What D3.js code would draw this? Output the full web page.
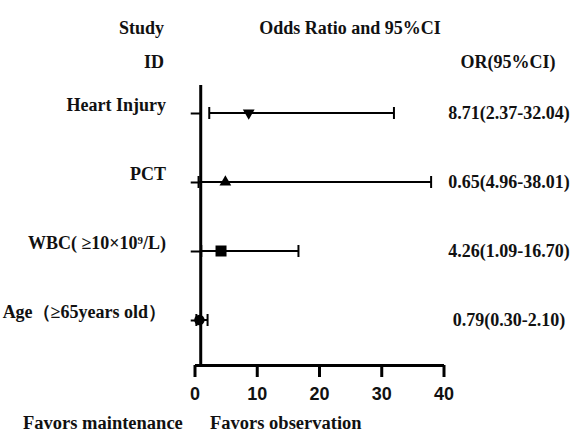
<!DOCTYPE html>
<html>
<head>
<meta charset="utf-8">
<script src="https://cdn.jsdelivr.net/npm/d3@7"></script>
<style>
  body { margin: 0; background: #fff; }
  svg text.serif { font-family: 'Liberation Serif', 'DejaVu Serif', serif; font-weight: bold; fill: #111; }
  .axis text { font-family: 'Liberation Sans', Arial, sans-serif; font-weight: bold; font-size: 18px; fill: #111; }
</style>
</head>
<body>
<svg width="577" height="434"></svg>
<script>
// forest plot data
var studies = ["Heart Injury", "PCT", "WBC( \u226510\u00d710\u2079/L)", "Age\uff08\u226565years old\uff09"];
var oddsRatio = [8.71, 4.96, 4.26, 0.79];
var lower = [2.37, 0.65, 1.09, 0.30];
var upper = [32.04, 38.01, 16.70, 2.10];
var orLabels = ["8.71(2.37-32.04)", "0.65(4.96-38.01)", "4.26(1.09-16.70)", "0.79(0.30-2.10)"];
var markers = ["triangleDown", "triangleUp", "square", "circle"];
var xTicks = [0, 10, 20, 30, 40];

var svg = d3.select("svg");
var serifFont = "'Liberation Serif', 'DejaVu Serif', serif";

var x = d3.scaleLinear().domain([0, 40]).range([194.5, 443.5]);
var y = d3.scalePoint().domain(studies).range([113, 320]);

function label(px, py, anchor, size, txt) {
  return svg.append("text")
    .attr("class", "serif")
    .attr("x", px).attr("y", py).attr("dy", "0.35em")
    .attr("text-anchor", anchor)
    .attr("font-family", serifFont)
    .attr("font-weight", "bold")
    .style("font-size", size + "px")
    .text(txt);
}

// headers
label(164, 28, "end", 18, "Study");
label(164, 62, "end", 18, "ID");
label(350, 28, "middle", 18, "Odds Ratio and 95%CI");
label(508, 62, "middle", 18, "OR(95%CI)");

// null line at OR = 1
svg.append("line")
  .attr("x1", x(1)).attr("x2", x(1))
  .attr("y1", 85).attr("y2", 365)
  .attr("stroke", "#000").attr("stroke-width", 3);

// left ticks for each row
var yAxis = svg.append("g")
  .attr("transform", "translate(" + x(1) + ",0)")
  .call(d3.axisLeft(y).tickSize(10).tickSizeOuter(0).tickFormat(""));
yAxis.select(".domain").remove();
yAxis.selectAll(".tick line").attr("stroke", "#000").attr("stroke-width", 2);

// x axis
var xAxis = svg.append("g")
  .attr("class", "axis")
  .attr("transform", "translate(0,365)")
  .call(d3.axisBottom(x).tickValues(xTicks).tickSize(12).tickSizeOuter(0).tickPadding(10));
xAxis.select(".domain").attr("stroke", "#000").attr("stroke-width", 3);
xAxis.selectAll(".tick line").attr("stroke", "#000").attr("stroke-width", 3);
xAxis.selectAll(".tick text").attr("font-family", "'Liberation Sans', Arial, sans-serif");

// rows
var rows = svg.selectAll(".row")
  .data(studies)
  .enter().append("g")
  .attr("class", "row");

rows.append("line")
  .attr("x1", function(d, i) { return x(lower[i]); })
  .attr("x2", function(d, i) { return x(upper[i]); })
  .attr("y1", function(d) { return y(d); })
  .attr("y2", function(d) { return y(d); })
  .attr("stroke", "#000").attr("stroke-width", 2);

rows.append("line")
  .attr("x1", function(d, i) { return x(lower[i]); })
  .attr("x2", function(d, i) { return x(lower[i]); })
  .attr("y1", function(d) { return y(d) - 6; })
  .attr("y2", function(d) { return y(d) + 6; })
  .attr("stroke", "#000").attr("stroke-width", 2);

rows.append("line")
  .attr("x1", function(d, i) { return x(upper[i]); })
  .attr("x2", function(d, i) { return x(upper[i]); })
  .attr("y1", function(d) { return y(d) - 6; })
  .attr("y2", function(d) { return y(d) + 6; })
  .attr("stroke", "#000").attr("stroke-width", 2);

var symbolFor = {
  triangleDown: d3.symbol().type(d3.symbolTriangle).size(60),
  triangleUp: d3.symbol().type(d3.symbolTriangle).size(60),
  square: d3.symbol().type(d3.symbolSquare).size(121),
  circle: d3.symbol().type(d3.symbolCircle).size(85)
};

rows.append("path")
  .attr("d", function(d, i) { return symbolFor[markers[i]](); })
  .attr("transform", function(d, i) {
    var t = "translate(" + x(oddsRatio[i]) + "," + y(d) + ")";
    if (markers[i] == "triangleDown") t += " rotate(180)";
    return t;
  })
  .attr("fill", "#000");

// study names
rows.append("text")
  .attr("class", "serif")
  .attr("x", 166)
  .attr("y", function(d) { return y(d) - 8; })
  .attr("dy", "0.35em")
  .attr("text-anchor", "end")
  .attr("font-family", serifFont)
  .attr("font-weight", "bold")
  .style("font-size", "18px")
  .text(function(d) { return d; });

// OR labels
rows.append("text")
  .attr("class", "serif")
  .attr("x", 509)
  .attr("y", function(d) { return y(d); })
  .attr("dy", "0.35em")
  .attr("text-anchor", "middle")
  .attr("font-family", serifFont)
  .attr("font-weight", "bold")
  .style("font-size", "18px")
  .text(function(d, i) { return orLabels[i]; });

// favors labels
label(23, 423, "start", 18.5, "Favors maintenance");
label(210, 423, "start", 18.5, "Favors observation");
</script>
</body>
</html>
